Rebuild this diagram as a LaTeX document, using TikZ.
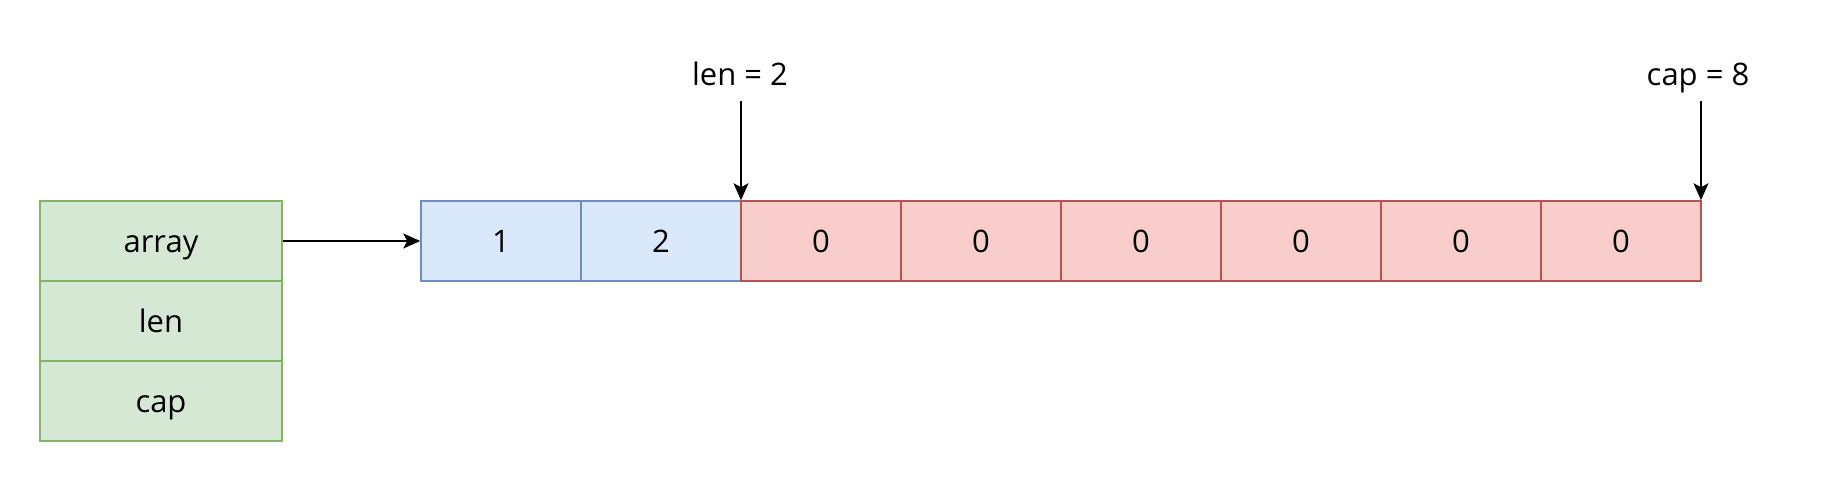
\documentclass[tikz,border=0pt]{standalone}
\usepackage{fontspec}
\setmainfont{Open Sans}
\usetikzlibrary{arrows.meta}
\definecolor{gfill}{HTML}{D5E8D4}
\definecolor{gline}{HTML}{82B366}
\definecolor{bfill}{HTML}{DAE8FC}
\definecolor{bline}{HTML}{6C8EBF}
\definecolor{rfill}{HTML}{F8CECC}
\definecolor{rline}{HTML}{B85450}
\tikzset{
  cellbase/.style={minimum width=160pt, minimum height=80pt, inner sep=0pt, text height=26pt, text depth=4pt, line width=1.5pt, font=\fontsize{31}{37}\selectfont},
  bluecell/.style={cellbase, fill=bfill, draw=bline},
  redcell/.style={cellbase, fill=rfill, draw=rline},
  greencell/.style={cellbase, minimum width=242pt, fill=gfill, draw=gline},
  lbl/.style={inner sep=0pt, anchor=base, font=\fontsize{31}{37}\selectfont},
  conn/.style={line width=1.5pt, -{Stealth[length=17pt,width=15pt,inset=4pt]}}
}
\begin{document}
\begin{tikzpicture}[x=1pt,y=-1pt]
\useasboundingbox (0,0) rectangle (1822,482);
% struct
\node[greencell] (arr) at (161,241) {array};
\node[greencell] (len) at (161,321) {len};
\node[greencell] (cap) at (161,401) {cap};
% array cells
\node[bluecell] (c1) at (501,241) {1};
\node[bluecell] (c2) at (661,241) {2};
\node[redcell] (c3) at (821,241) {0};
\node[redcell] (c4) at (981,241) {0};
\node[redcell] (c5) at (1141,241) {0};
\node[redcell] (c6) at (1301,241) {0};
\node[redcell] (c7) at (1461,241) {0};
\node[redcell] (c8) at (1621,241) {0};
% labels
\node[lbl] (lenlbl) at (740,85) {len = 2};
\node[lbl] (caplbl) at (1698,85) {cap = 8};
\coordinate (lentop) at (741,101);
\coordinate (captop) at (1701,101);
% connectors
\draw[conn] (arr.east) -- (c1.west);
\draw[conn] (lentop) -- (lentop |- c2.north);
\draw[conn] (captop) -- (captop |- c8.north);
\end{tikzpicture}
\end{document}
